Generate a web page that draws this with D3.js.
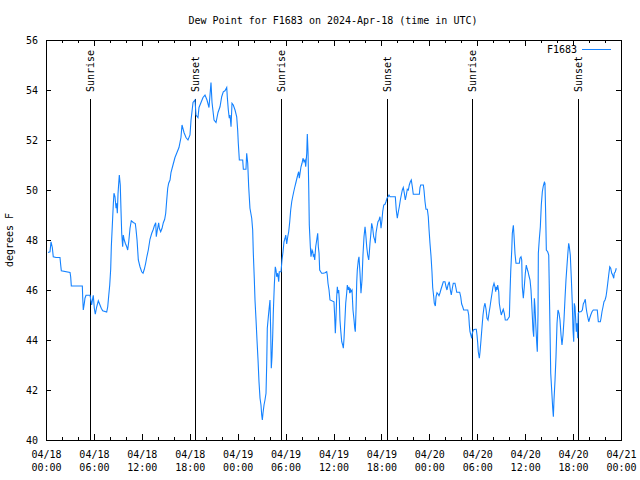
<!DOCTYPE html>
<html><head><meta charset="utf-8">
<script src="https://cdn.jsdelivr.net/npm/d3@7"></script>
<style>
body{margin:0;background:#fff;}
svg{display:block;font-family:"DejaVu Sans Mono",monospace;font-size:10px;}
</style></head>
<body><svg id="chart" width="640" height="480"></svg>
<script>
const chartTitle = "Dew Point for F1683 on 2024-Apr-18 (time in UTC)";
const yLabel = "degrees F";
const seriesName = "F1683";
const startUTC = Date.UTC(2024, 3, 18, 0, 0);
const endUTC = Date.UTC(2024, 3, 21, 0, 0);
const yTicks = [40, 42, 44, 46, 48, 50, 52, 54, 56];
const sunEventHours = [5.45, 18.70, 29.45, 42.72, 53.40, 66.66];
const sunEventNames = ["Sunrise", "Sunset", "Sunrise", "Sunset", "Sunrise", "Sunset"];

// hours since 2024-04-18 00:00 UTC
const hours = [
0.25,0.50,0.63,0.79,0.91,1.25,1.75,1.84,1.92,3.01,
3.09,3.17,4.55,4.60,4.67,4.80,4.88,5.01,5.51,5.60,
5.72,5.85,5.92,6.05,6.17,6.35,6.55,6.76,6.92,7.10,
7.60,7.73,7.85,7.98,8.10,8.18,8.30,8.43,8.51,8.64,
8.77,8.85,8.93,9.02,9.10,9.18,9.30,9.39,9.48,9.60,
9.68,9.80,9.93,10.11,10.23,10.36,10.52,10.68,10.93,11.18,
11.27,11.40,11.56,11.77,11.98,12.15,12.31,12.48,12.61,12.81,
13.02,13.24,13.44,13.56,13.74,13.81,13.94,14.11,14.19,14.36,
14.53,14.69,14.86,14.99,15.11,15.24,15.36,15.53,15.65,15.90,
16.15,16.40,16.65,16.90,17.03,17.28,17.53,17.78,18.03,18.16,
18.41,18.66,18.78,19.03,19.16,19.41,19.66,19.91,20.16,20.41,
20.66,20.79,21.04,21.29,21.54,21.79,22.00,22.20,22.41,22.63,
22.70,22.83,22.95,23.04,23.17,23.29,23.45,23.67,23.88,24.00,
24.08,24.21,24.63,24.71,25.04,25.13,25.26,25.38,25.54,25.76,
25.88,25.96,26.08,26.17,26.30,26.42,26.55,26.67,26.80,26.92,
27.01,27.09,27.17,27.30,27.42,27.55,27.64,27.71,27.84,27.96,
28.05,28.14,28.21,28.30,28.39,28.46,28.59,28.71,28.80,28.89,
29.01,29.14,29.21,29.43,29.55,29.68,29.80,29.93,30.02,30.14,
30.27,30.39,30.52,30.64,30.77,30.89,31.02,31.14,31.27,31.39,
31.52,31.64,31.72,31.81,31.93,32.06,32.18,32.31,32.43,32.52,
32.65,32.72,32.81,32.90,32.97,33.10,33.18,33.31,33.40,33.47,
33.56,33.65,33.77,33.90,34.02,34.10,34.19,34.27,34.40,34.52,
34.72,34.94,35.15,35.22,35.31,35.44,35.56,36.06,36.15,36.23,
36.31,36.40,36.48,36.56,36.65,36.73,36.81,36.90,37.03,37.15,
37.23,37.32,37.44,37.53,37.65,37.73,37.85,37.94,38.03,38.10,
38.19,38.32,38.44,38.57,38.66,38.73,38.82,38.91,38.98,39.11,
39.19,39.32,39.44,39.57,39.69,39.82,39.95,40.03,40.16,40.28,
40.41,40.48,40.57,40.70,40.78,40.91,41.03,41.16,41.24,41.32,
41.45,41.57,41.70,41.82,41.95,42.07,42.16,42.29,42.45,42.57,
42.70,42.83,42.95,43.08,43.29,43.49,43.74,43.86,43.99,44.12,
44.24,44.37,44.49,44.62,44.74,44.87,44.99,45.12,45.24,45.37,
45.49,45.62,45.74,45.87,45.99,46.75,46.83,46.92,47.25,47.33,
47.46,47.58,47.75,47.87,47.96,48.08,48.21,48.33,48.42,48.55,
48.62,48.75,48.84,48.96,49.09,49.21,49.34,49.46,49.59,49.75,
49.96,50.09,50.21,50.34,50.50,50.63,50.75,50.88,51.00,51.21,
51.34,51.43,51.80,51.93,52.05,52.18,52.30,52.81,52.93,53.01,
53.09,53.18,53.31,53.38,53.51,53.72,53.88,53.97,54.06,54.13,
54.26,54.35,54.47,54.60,54.72,54.85,54.97,55.10,55.22,55.35,
55.47,55.60,55.72,55.85,55.97,56.10,56.22,56.31,56.39,56.47,
56.56,56.69,56.76,56.89,57.01,57.14,57.26,57.39,57.51,57.76,
57.89,58.02,58.10,58.19,58.32,58.39,58.52,58.60,58.73,58.85,
59.27,59.35,59.48,59.57,59.64,59.77,59.89,60.02,60.14,60.23,
60.36,60.48,60.61,60.73,60.86,60.98,61.07,61.15,61.23,61.32,
61.45,61.52,61.61,61.65,61.77,61.90,62.02,62.15,62.27,62.40,
62.48,62.57,62.65,62.82,62.95,63.07,63.20,63.32,63.45,63.53,
63.61,63.74,63.86,63.99,64.11,64.24,64.36,64.49,64.61,64.74,
64.86,64.99,65.11,65.24,65.36,65.45,65.53,65.65,65.78,65.90,
65.99,66.08,66.15,66.24,66.33,66.40,66.49,66.58,66.65,66.78,
66.99,67.16,67.28,67.41,67.53,67.62,67.71,67.83,67.96,68.08,
68.21,68.37,68.53,69.03,69.16,69.41,69.50,69.62,69.75,69.87,
70.00,70.12,70.21,70.34,70.46,70.59,70.71,70.84,70.96,71.09,
71.16,71.29,71.41
];

const dewPointF = [
47.5,47.53,47.93,47.7,47.33,47.3,47.3,47.0,46.77,46.7,
46.53,46.16,46.16,45.67,45.2,45.47,45.67,45.79,45.79,45.63,
45.4,45.67,45.79,45.27,45.03,45.33,45.57,45.4,45.27,45.17,
45.12,45.33,45.76,46.2,46.83,47.73,48.56,49.44,49.87,49.73,
49.27,49.47,49.07,49.87,50.24,50.6,50.2,49.2,48.27,47.73,
48.2,48.0,47.87,47.73,47.6,47.93,48.47,48.77,48.7,48.66,
48.43,48.0,47.2,46.93,46.73,46.67,46.83,47.07,47.3,47.6,
48.03,48.27,48.43,48.56,48.69,48.13,48.4,48.69,48.47,48.33,
48.47,48.69,48.83,49.07,49.57,50.07,50.27,50.4,50.7,51.0,
51.3,51.5,51.7,52.1,52.6,52.3,52.1,52.0,52.2,52.8,
53.5,53.6,53.0,52.9,53.3,53.5,53.7,53.8,53.6,53.3,
54.3,53.5,52.8,52.7,53.1,53.33,53.73,53.93,53.97,54.1,
53.73,53.2,52.87,53.0,52.53,53.47,53.4,53.2,52.93,52.4,
51.87,51.2,51.2,50.83,50.83,51.47,51.07,50.13,49.27,48.87,
48.4,47.47,46.47,45.6,44.8,44.0,43.2,42.33,41.67,41.4,
41.0,40.8,41.07,41.4,41.6,41.87,43.07,44.47,44.93,45.33,
45.6,44.27,42.87,43.33,44.2,45.07,46.2,46.93,46.8,46.53,
46.67,46.33,46.73,46.73,47.2,47.53,47.93,48.07,48.2,47.84,
48.13,48.33,48.73,49.2,49.53,49.73,49.93,50.1,50.27,50.43,
50.6,50.73,50.47,50.67,50.93,51.07,51.27,51.13,51.2,50.93,
51.47,52.24,51.53,50.07,48.6,47.73,47.33,47.6,47.53,47.36,
47.4,47.2,47.73,48.0,48.27,47.73,47.47,46.8,46.73,46.67,
46.67,46.69,46.73,46.6,46.27,46.0,45.6,45.53,44.93,44.27,
44.87,45.73,46.13,45.87,46.0,45.6,44.8,44.4,43.93,43.8,
43.67,44.07,44.87,45.47,45.87,46.2,46.0,46.13,45.87,46.07,
45.93,46.0,45.2,44.8,44.47,44.33,45.2,46.33,46.8,47.2,
47.33,46.67,45.87,46.4,47.4,48.13,48.53,48.27,47.73,47.4,
47.2,47.47,47.87,48.33,48.67,48.47,48.13,48.0,47.87,48.27,
48.53,48.73,48.8,48.93,48.47,48.8,49.13,49.4,49.43,49.53,
49.67,49.73,49.8,49.73,49.73,49.73,49.73,49.2,48.87,49.13,
49.33,49.6,49.8,50.0,50.1,49.87,49.6,49.8,50.03,50.0,
50.2,50.33,50.4,50.13,49.83,49.83,50.1,50.2,50.2,50.0,
49.53,49.23,49.23,48.93,48.43,47.87,47.36,46.73,46.1,45.73,
45.47,45.36,45.73,45.89,45.84,45.77,45.89,46.03,46.16,46.33,
46.33,46.13,46.0,46.2,46.33,46.0,45.8,46.07,46.27,46.27,
46.07,45.91,45.91,45.73,45.44,45.33,45.2,45.2,45.0,44.6,
44.33,44.23,44.07,44.27,44.4,44.43,44.43,44.2,43.87,43.53,
43.27,43.53,44.0,44.53,45.0,45.33,45.47,45.23,44.87,44.8,
45.07,45.33,45.6,45.87,46.13,46.27,46.13,45.93,46.13,46.0,
46.2,45.93,45.47,45.2,45.0,45.13,45.23,45.07,44.8,44.8,
44.87,44.93,45.87,46.73,47.6,48.27,48.59,48.2,47.44,47.07,
47.07,47.27,47.33,47.2,46.13,45.67,46.13,46.67,47.0,46.87,
46.73,46.56,46.4,46.0,45.2,44.4,44.13,45.67,45.33,44.67,
43.87,43.53,45.07,47.47,48.03,48.53,49.4,49.93,50.16,50.31,
50.27,49.0,47.6,47.53,47.4,45.2,42.67,42.0,41.27,40.93,
41.6,42.4,43.33,44.67,45.2,45.07,44.8,44.2,43.8,44.2,
44.8,45.67,46.4,47.0,47.53,47.87,47.73,47.4,46.47,45.47,
44.4,43.93,45.47,45.33,44.8,44.33,44.67,44.07,45.07,45.13,
45.13,45.2,45.44,45.53,45.63,45.33,45.13,44.93,44.73,44.87,
45.0,45.13,45.2,45.2,44.73,44.73,44.87,45.13,45.33,45.53,
45.6,45.73,45.93,46.27,46.6,46.93,46.87,46.67,46.6,46.47,
46.67,46.73,46.87
];

const HOUR = 3600000;
const data = hours.map((h, i) => ({ t: new Date(startUTC + h * HOUR), v: dewPointF[i] }));
const sunEvents = sunEventHours.map((h, i) => ({ t: new Date(startUTC + h * HOUR), name: sunEventNames[i] }));

const L = 46, R = 621, T = 40, B = 440;
const svg = d3.select("#chart");
const x = d3.scaleUtc().domain([new Date(startUTC), new Date(endUTC)]).range([L, R]);
const y = d3.scaleLinear().domain([40, 56]).range([B, T]);

const majorX = d3.utcHour.every(6).range(new Date(startUTC), new Date(endUTC + 1));
const minorX = d3.utcHour.every(2).range(new Date(startUTC), new Date(endUTC + 1));
const fmtDate = d3.utcFormat("%m/%d");
const fmtTime = d3.utcFormat("%H:%M");

// title
svg.append("text").attr("x", 333).attr("y", 24).attr("text-anchor", "middle").attr("fill", "#000").text(chartTitle);

// y label
svg.append("text").attr("transform", "translate(13,240) rotate(-90)").attr("text-anchor", "middle").attr("fill", "#000").text(yLabel);

function styleAxis(g) {
  g.select(".domain").remove();
  g.selectAll(".tick line").attr("stroke", "#000").attr("shape-rendering", "crispEdges");
  g.selectAll("text").attr("fill", "#000").attr("font-family", "DejaVu Sans Mono, monospace").attr("font-size", 10);
}

// bottom minor + major
svg.append("g").attr("transform", `translate(0,${B})`)
  .call(d3.axisBottom(x).tickValues(minorX).tickSize(-3).tickFormat("")).call(styleAxis);
const bx = svg.append("g").attr("transform", `translate(0,${B})`)
  .call(d3.axisBottom(x).tickValues(majorX).tickSize(-6).tickPadding(0).tickFormat(d => fmtDate(d))).call(styleAxis);
bx.selectAll(".tick text").each(function(d) {
  const t = d3.select(this);
  t.text(null).attr("dy", null).attr("y", null);
  t.append("tspan").attr("x", 0).attr("y", 18).text(fmtDate(d));
  t.append("tspan").attr("x", 0).attr("y", 31).text(fmtTime(d));
});
// top ticks
svg.append("g").attr("transform", `translate(0,${T})`)
  .call(d3.axisTop(x).tickValues(minorX).tickSize(-3).tickFormat("")).call(styleAxis);
svg.append("g").attr("transform", `translate(0,${T})`)
  .call(d3.axisTop(x).tickValues(majorX).tickSize(-6).tickFormat("")).call(styleAxis);

// y axes
svg.append("g").attr("transform", `translate(${L},0)`)
  .call(d3.axisLeft(y).tickValues(yTicks).tickSize(-5).tickPadding(8).tickFormat(d3.format("d"))).call(styleAxis);
svg.append("g").attr("transform", `translate(${R},0)`)
  .call(d3.axisRight(y).tickValues(yTicks).tickSize(-5).tickFormat("")).call(styleAxis);

// sun events
const sg = svg.append("g");
sg.selectAll("line").data(sunEvents).join("line")
  .attr("x1", d => Math.round(x(d.t)) + 0.5).attr("x2", d => Math.round(x(d.t)) + 0.5)
  .attr("y1", 99).attr("y2", B).attr("stroke", "#000").attr("stroke-width", 1);
sg.selectAll("text").data(sunEvents).join("text")
  .attr("transform", d => `translate(${Math.round(x(d.t)) + 0.5},92) rotate(-90)`)
  .attr("dy", "0.35em").attr("text-anchor", "start").attr("fill", "#000").text(d => d.name);

// data line
const line = d3.line().x(d => x(d.t)).y(d => y(d.v));
svg.append("path").datum(data).attr("d", line)
  .attr("fill", "none").attr("stroke", "#1482ff").attr("stroke-width", 1.1);

// border
svg.append("rect").attr("x", L + 0.5).attr("y", T + 0.5).attr("width", R - L).attr("height", B - T)
  .attr("fill", "none").attr("stroke", "#000").attr("stroke-width", 1).attr("shape-rendering", "crispEdges");

// legend
svg.append("text").attr("x", 577).attr("y", 53).attr("text-anchor", "end").attr("fill", "#000").text(seriesName);
svg.append("line").attr("x1", 582).attr("x2", 611).attr("y1", 49.5).attr("y2", 49.5)
  .attr("stroke", "#1482ff").attr("stroke-width", 1);
</script></body></html>
